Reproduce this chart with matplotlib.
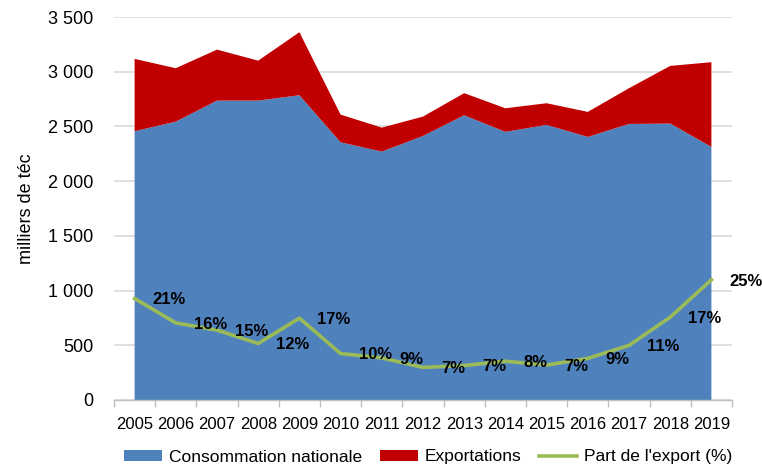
import matplotlib
matplotlib.use("Agg")
import matplotlib.pyplot as plt
from matplotlib.lines import Line2D
from matplotlib.patches import Patch

years = ["2005", "2006", "2007", "2008", "2009", "2010", "2011", "2012",
         "2013", "2014", "2015", "2016", "2017", "2018", "2019"]
consommation = [2456, 2544, 2736, 2736, 2785, 2355, 2270, 2413,
                2602, 2450, 2514, 2404, 2523, 2526, 2313]
exportations = [661, 488, 466, 365, 576, 253, 219, 177,
                202, 216, 198, 229, 326, 527, 774]
part_export = [0.212, 0.161, 0.146, 0.118, 0.171, 0.097, 0.088, 0.068,
               0.072, 0.081, 0.073, 0.087, 0.114, 0.173, 0.251]
yticks = [0, 500, 1000, 1500, 2000, 2500, 3000, 3500]

plt.rcParams["font.family"] = ["Liberation Sans", "DejaVu Sans"]

BLUE = "#4F81BD"
RED = "#C00000"
GREEN = "#9BBB59"

fig = plt.figure(figsize=(7.62, 4.68), dpi=100)
ax = fig.add_axes([114 / 762, 1 - 400 / 468, (732 - 114) / 762, (400 - 17) / 468])

x = list(range(len(years)))
ax.stackplot(x, consommation, exportations, colors=[BLUE, RED], zorder=2)
ax.set_xlim(-0.5, len(years) - 0.5)
ax.set_ylim(0, 3500)
ax.set_yticks(yticks)
ax.set_yticklabels([f"{v:,}".replace(",", " ") for v in yticks], fontsize=13)
ax.grid(axis="y", color="#D9D9D9", linewidth=1.2, zorder=0)
ax.set_axisbelow(True)
ax.tick_params(axis="y", length=0, pad=15)

ax.set_xticks(x)
ax.set_xticklabels(years, fontsize=12)
ax.set_xticks([i - 0.5 for i in range(len(years) + 1)], minor=True)
ax.tick_params(axis="x", which="major", length=0, pad=12)
ax.tick_params(axis="x", which="minor", length=5, color="#BFBFBF", width=1)
for s in ["top", "right", "left"]:
    ax.spines[s].set_visible(False)
ax.spines["bottom"].set_color("#BFBFBF")
ax.spines["bottom"].set_linewidth(1)
ax.spines["bottom"].set_zorder(5)

ax.set_ylabel("milliers de téc", fontsize=13, labelpad=9)

ax2 = ax.twinx()
ax2.set_ylim(0, 0.8)
ax2.plot(x, part_export, color=GREEN, linewidth=2.6, zorder=3)
ax2.axis("off")
for i, v in enumerate(part_export):
    ax2.annotate(f"{round(v * 100)}%", (i, v), xytext=(13, -1),
                 textcoords="offset points", ha="left", va="center",
                 fontsize=12, fontweight="bold", color="black",
                 annotation_clip=False)

handles = [Patch(facecolor=BLUE), Patch(facecolor=RED),
           Line2D([0], [0], color=GREEN, linewidth=2.6)]
labels = ["Consommation nationale", "Exportations", "Part de l'export (%)"]
fig.legend(handles, labels, loc="center", ncol=3, frameon=False,
           fontsize=12.5, bbox_to_anchor=(0.562, 1 - 457 / 468), handlelength=2.2,
           handleheight=0.6, handletextpad=0.4, columnspacing=1.0,
           borderaxespad=0, borderpad=0)

fig.savefig("out.png", dpi=100)
